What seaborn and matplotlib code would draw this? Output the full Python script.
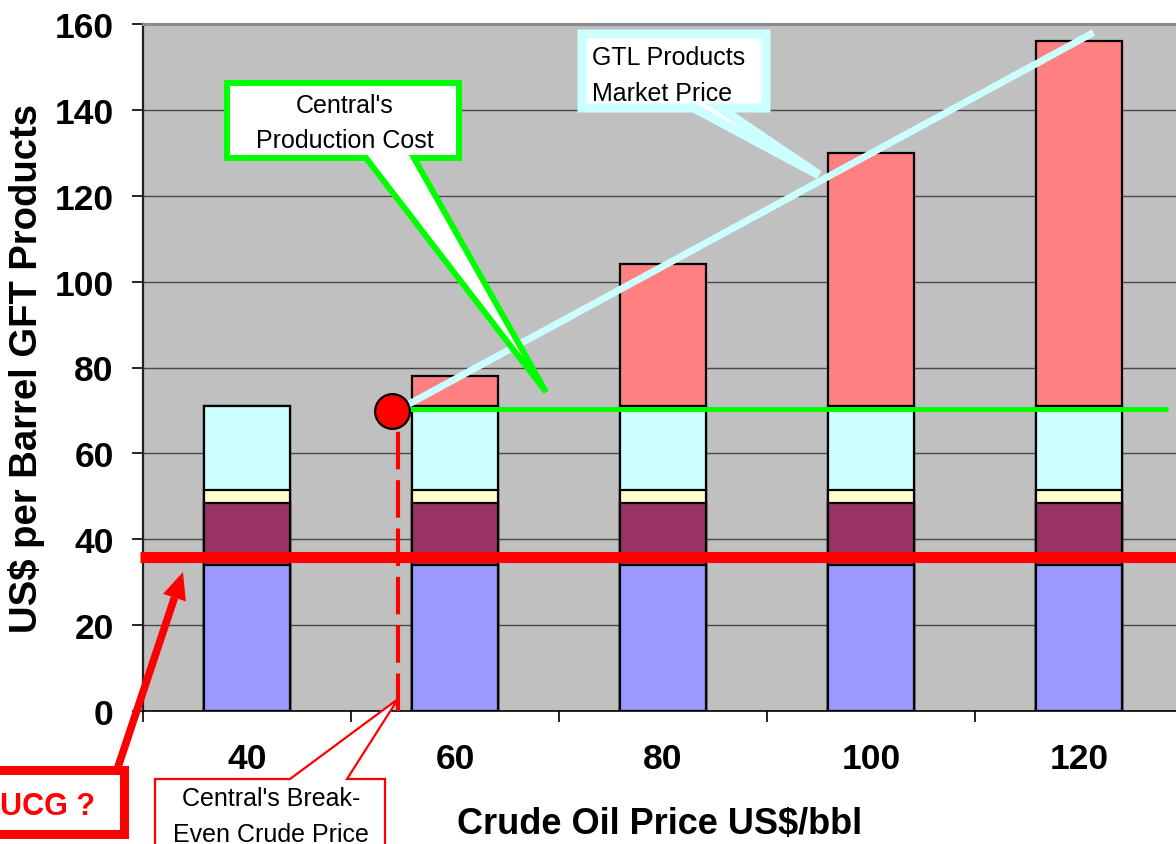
import matplotlib
matplotlib.use("Agg")
import matplotlib.pyplot as plt
import numpy as np
import pandas as pd
import seaborn as sns
from matplotlib.patches import Polygon
from matplotlib.lines import Line2D

# ---- data -------------------------------------------------------------
crude_prices = ["40", "60", "80", "100", "120"]       # US$/bbl categories
cost_base = [34.0, 34.0, 34.0, 34.0, 34.0]            # blue
cost_second = [14.4, 14.4, 14.4, 14.4, 14.4]          # purple
cost_third = [3.0, 3.0, 3.0, 3.0, 3.0]                # pale yellow
cost_fourth = [19.6, 19.6, 19.6, 19.6, 19.6]          # pale cyan
margin = [0.0, 7.0, 33.0, 59.0, 85.0]                 # salmon (price above cost)

y_ticks = [0, 20, 40, 60, 80, 100, 120, 140, 160]
y_tick_labels = ["0", "20", "40", "60", "80", "100", "120", "140", "160"]

ucg_level = 35.8                      # thick red reference line
production_cost = 70.4                # green line
cost_line_crude = [55.3, 128.6]
market_line_crude = [55.2, 121.4]     # GTL products market price line
market_line_price = [71.0, 158.0]
break_even_crude = 54.5               # dashed drop line
break_even_point = (53.9, 69.9)       # red marker
break_even_drop_top = 65.7

layer_colors = ["#9999ff", "#993366", "#ffffcc", "#ccffff", "#ff8080"]

# ---- figure -----------------------------------------------------------
W, H = 1176, 845
sns.set_style("ticks")
plt.rcParams["font.family"] = ["Liberation Sans", "DejaVu Sans"]
plt.rcParams["text.color"] = "black"
plt.rcParams["axes.labelcolor"] = "black"
plt.rcParams["xtick.color"] = "black"
plt.rcParams["ytick.color"] = "black"

fig = plt.figure(figsize=(W / 100, H / 100), dpi=100)
fig.patch.set_facecolor("white")
ax = fig.add_axes([143 / W, (H - 712) / H, 1040 / W, 687 / H])
ax.set_facecolor("#c0c0c0")


def cat_pos(crude):
    """Map a crude price onto the categorical x positions (40 -> 0, 60 -> 1 ...)."""
    return (np.asarray(crude, dtype=float) - 40.0) / 20.0


def px(x, y):
    """Pixel position (from the top-left corner) to figure fraction."""
    return (x / W, 1 - y / H)


# stacked bars: draw cumulative totals from the top layer down
layers = [cost_base, cost_second, cost_third, cost_fourth, margin]
cum = np.cumsum(np.array(layers), axis=0)
df = pd.DataFrame({"crude": crude_prices})
for i in range(len(layers)):
    df[f"top{i}"] = cum[i]
for i in reversed(range(len(layers))):
    sns.barplot(data=df, x="crude", y=f"top{i}", order=crude_prices,
                color=layer_colors[i], saturation=1, width=0.41,
                edgecolor="black", linewidth=1.6, errorbar=None, ax=ax,
                zorder=2)

ax.set_xlim(-0.5, 4.5)
ax.set_ylim(0, 160)
ax.set_xlabel("")
ax.set_ylabel("")

# grid and frame
ax.set_axisbelow(True)
ax.grid(axis="y", color="#4a4a4a", linewidth=1.0)
ax.grid(axis="x", visible=False)
ax.spines["left"].set_color("#202020")
ax.spines["left"].set_linewidth(1.6)
ax.spines["bottom"].set_color("black")
ax.spines["bottom"].set_linewidth(1.2)
ax.spines["top"].set_visible(True)
ax.spines["top"].set_color("#8a8a8a")
ax.spines["top"].set_linewidth(2.2)
ax.spines["right"].set_visible(False)

# ticks
ax.set_yticks(y_ticks)
ax.set_yticklabels(y_tick_labels, fontsize=25.5, fontweight="bold")
ax.tick_params(axis="y", length=8, width=1.2, color="black", pad=13)
ax.set_xticks(range(len(crude_prices)))
ax.set_xticklabels(crude_prices, fontsize=25.5, fontweight="bold")
ax.set_xticks(np.arange(-0.5, len(crude_prices) + 0.5, 1.0), minor=True)
ax.tick_params(axis="x", which="major", length=0, pad=22)
ax.tick_params(axis="x", which="minor", length=8, width=1.2, color="black")

# reference lines
ax.plot([-0.515, 4.6], [ucg_level, ucg_level], color="#ff0000", lw=8,
        solid_capstyle="butt", clip_on=False, zorder=6)
ax.plot(cat_pos(cost_line_crude), [production_cost, production_cost],
        color="#00ff00", lw=3.6, solid_capstyle="butt", zorder=6)
ax.plot(cat_pos(market_line_crude), market_line_price, color="#ccffff",
        lw=5, solid_capstyle="butt", zorder=7)
ax.plot(cat_pos([break_even_crude, break_even_crude]), [0, break_even_drop_top],
        color="#ff0000", lw=3, dashes=(9, 2.6), zorder=6, clip_on=False)
ax.plot(cat_pos(break_even_point[0]), break_even_point[1], "o", ms=25,
        mfc="#ff0000", mec="black", mew=1.6, zorder=8, clip_on=False)

# axis titles
fig.text(*px(27, 368), "US$ per Barrel GFT Products", rotation=90,
         ha="center", va="center", fontsize=27.5, fontweight="bold")
fig.text(*px(660, 825), "Crude Oil Price US$/bbl", ha="center",
         va="center", fontsize=26, fontweight="bold")


def callout(points, edge, lw):
    poly = Polygon([px(x, y) for x, y in points], closed=True,
                   transform=fig.transFigure, facecolor="white",
                   edgecolor=edge, linewidth=lw, joinstyle="miter",
                   zorder=10)
    fig.add_artist(poly)


def label(x, y, s, ha="center", **kw):
    fig.text(*px(x, y), s, ha=ha, va="baseline", fontsize=18,
             zorder=11, **kw)


# production-cost callout
callout([(227, 84), (459, 84), (459, 159), (414, 159), (546, 393),
         (366, 159), (227, 159)], "#00ff00", 4.3)
label(345, 113, "Central's")
label(345, 148, "Production Cost")

# market-price callout
callout([(582, 35), (766, 35), (766, 109), (720, 109), (819, 176),
         (694, 109), (582, 109)], "#ccffff", 6.5)
label(592, 65, "GTL Products", ha="left")
label(592, 101, "Market Price", ha="left")

# break-even callout
callout([(155, 780), (290, 780), (398, 700), (347, 780), (385, 780),
         (385, 880), (155, 880)], "#ff0000", 1.6)
label(271, 806, "Central's Break-")
label(271, 842, "Even Crude Price")

# UCG box and arrow
callout([(-12, 771), (123.5, 771), (123.5, 835), (-12, 835)], "#ff0000", 6.5)
fig.text(*px(0, 815), "UCG ?", ha="left", va="baseline", fontsize=22,
         fontweight="bold", color="#ff0000", zorder=11)

tail = np.array([117.0, 771.0])
tip = np.array([183.0, 573.0])
u = (tip - tail) / np.linalg.norm(tip - tail)
n = np.array([-u[1], u[0]])
base = tip - 27 * u
fig.add_artist(Line2D(*zip(px(*tail), px(*base)), transform=fig.transFigure,
                      color="#ff0000", lw=5.5, solid_capstyle="butt", zorder=9))
head = [px(*tip), px(*(base + 12 * n)), px(*(base - 12 * n))]
fig.add_artist(Polygon(head, closed=True, transform=fig.transFigure,
                       facecolor="#ff0000", edgecolor="none", zorder=9))

fig.savefig("out.png", dpi=100, facecolor="white")
